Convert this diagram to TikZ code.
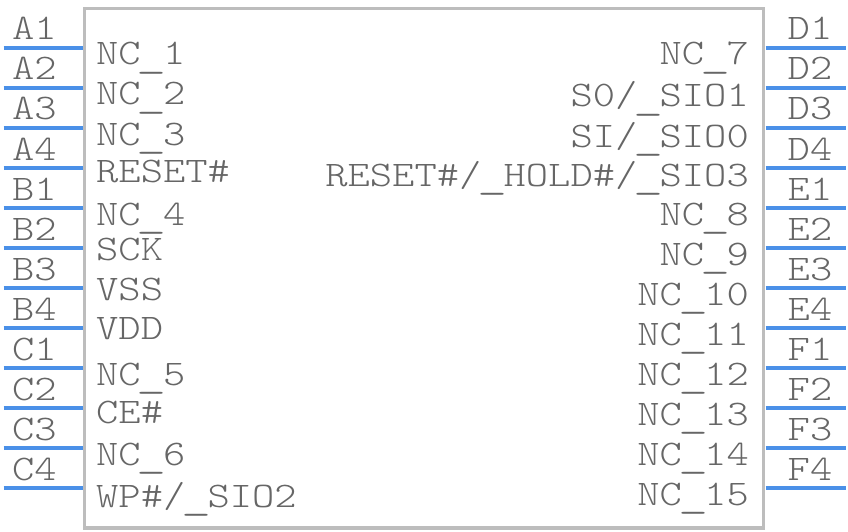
\documentclass[tikz,border=0pt]{standalone}
\usepackage{fontspec}
\setmonofont[FakeStretch=1.179]{Latin Modern Mono Light}
\definecolor{pinblue}{HTML}{4A90E8}
\definecolor{bodygrey}{HTML}{BDBDBD}
\definecolor{textgrey}{HTML}{666666}
\newcommand{\lowbar}{\makebox[22.3pt]{\raisebox{-2.5pt}{\scalebox{1.35}[1.05]{\_}}}}
\tikzset{
  pin line/.style={pinblue, line width=4pt},
  pin name/.style={textgrey, inner sep=0pt, anchor=base, font=\ttfamily\fontsize{36}{36}\selectfont},
  left name/.style={textgrey, inner sep=0pt, anchor=base west, font=\ttfamily\fontsize{36}{36}\selectfont},
  right name/.style={textgrey, inner sep=0pt, anchor=base east, font=\ttfamily\fontsize{36}{36}\selectfont},
}
\begin{document}
\begin{tikzpicture}[x=1pt, y=-1pt]
  \useasboundingbox (0,0) rectangle (848,532);

  % Package body
  \node (body) [draw=bodygrey, line width=3.5pt, minimum width=679pt, minimum height=519.5pt, inner sep=0pt] at (424,268.25) {};

  % Left pins
  \foreach \pinname/\ypos in {A1/48,A2/88,A3/128,A4/168,B1/208,B2/248,B3/288,B4/328,C1/368,C2/408,C3/448,C4/488}{
    \coordinate (end\pinname) at (3.5,\ypos);
    \coordinate (in\pinname) at (82.5,\ypos);
    \draw[pin line] (end\pinname) -- (in\pinname);
    \node (\pinname) [pin name] at (34.5,\ypos-8) {\pinname};
  }

  % Right pins
  \foreach \pinname/\ypos in {D1/48,D2/88,D3/128,D4/168,E1/208,E2/248,E3/288,E4/328,F1/368,F2/408,F3/448,F4/488}{
    \coordinate (end\pinname) at (845.5,\ypos);
    \coordinate (in\pinname) at (765.5,\ypos);
    \draw[pin line] (in\pinname) -- (end\pinname);
    \node (\pinname) [pin name] at (810,\ypos-8) {\pinname};
  }

  % Names inside the body, left side
  \node (nc1) [left name] at (96,65) {NC\lowbar 1};
  \node (nc2) [left name] at (96,105) {NC\lowbar 2};
  \node (nc3) [left name] at (96,145) {NC\lowbar 3};
  \node (reset) [left name] at (96,182) {RESET\#};
  \node (nc4) [left name] at (96,225) {NC\lowbar 4};
  \node (sck) [left name] at (96,260) {SCK};
  \node (vss) [left name] at (96,300) {VSS};
  \node (vdd) [left name] at (96,339) {VDD};
  \node (nc5) [left name] at (96,385) {NC\lowbar 5};
  \node (ce) [left name] at (96,423) {CE\#};
  \node (nc6) [left name] at (96,465) {NC\lowbar 6};
  \node (wp) [left name] at (96,507) {WP\#/\lowbar SIO2};

  % Names inside the body, right side
  \node (nc7) [right name] at (749,65) {NC\lowbar 7};
  \node (sio1) [right name] at (749,107) {S0/\lowbar SIO1};
  \node (sio0) [right name] at (749,147) {SI/\lowbar SIO0};
  \node (sio3) [right name] at (749,186) {RESET\#/\lowbar HOLD\#/\lowbar SIO3};
  \node (nc8) [right name] at (749,225) {NC\lowbar 8};
  \node (nc9) [right name] at (749,265) {NC\lowbar 9};
  \node (nc10) [right name] at (749,305) {NC\lowbar 10};
  \node (nc11) [right name] at (749,345) {NC\lowbar 11};
  \node (nc12) [right name] at (749,385) {NC\lowbar 12};
  \node (nc13) [right name] at (749,425) {NC\lowbar 13};
  \node (nc14) [right name] at (749,465) {NC\lowbar 14};
  \node (nc15) [right name] at (749,505) {NC\lowbar 15};
\end{tikzpicture}
\end{document}
